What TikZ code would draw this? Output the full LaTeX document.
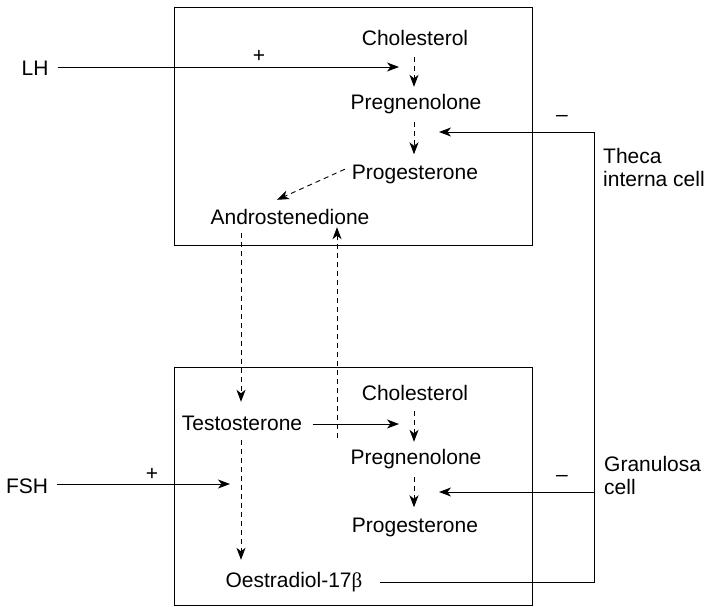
\documentclass[tikz,border=0pt]{standalone}
\usepackage{fontspec}
\setmainfont{Liberation Sans}
\newfontfamily\grkfont{Liberation Serif}
\usetikzlibrary{arrows.meta,calc}
\begin{document}
\begin{tikzpicture}[x=1pt,y=-1pt,
  lbl/.style={font=\fontsize{21}{23}\selectfont, inner sep=0pt, anchor=base, text height=15pt, text depth=4.5pt},
  sign/.style={font=\fontsize{21}{23}\selectfont, inner sep=0pt},
  cellname/.style={font=\fontsize{21}{23}\selectfont, inner sep=0pt, align=left, anchor=north west},
  cellbox/.style={draw, line width=1pt, inner sep=0pt, anchor=north west, minimum width=358pt, minimum height=238pt},
  sarr/.style={line width=0.9pt, -{Stealth[length=12pt,width=9pt,inset=3.5pt]}},
  darr/.style={sarr, dash pattern=on 5pt off 4pt}
]
\useasboundingbox (0,0) rectangle (704,606);

% cell boxes
\node[cellbox] (theca) at (174,7) {};
\node[cellbox] (gran) at (174,367) {};

% text nodes
\node[lbl] (LH)  at (35,75) {LH};
\node[lbl] (FSH) at (27,493) {FSH};
\node[lbl] (C1)  at (415,45.5) {Cholesterol};
\node[lbl] (P1)  at (416,109.5) {Pregnenolone};
\node[lbl] (Pr1) at (415,179.5) {Progesterone};
\node[lbl] (A)   at (290,224.5) {Androstenedione};
\node[lbl] (T)   at (242,430.5) {Testosterone};
\node[lbl] (C2)  at (415,400.5) {Cholesterol};
\node[lbl] (P2)  at (416,464.5) {Pregnenolone};
\node[lbl] (Pr2) at (415,532.5) {Progesterone};
\node[lbl] (O)   at (294,587.5) {Oestradiol-17{\grkfont β}};

\node[cellname] (thecalbl) at (603,148) {Theca\\interna cell};
\node[cellname] (granlbl) at (604,456) {Granulosa\\cell};

\node[sign] (plus1) at (259,56) {+};
\node[sign] (plus2) at (152,474) {+};
\node[sign] (minus1) at (562,118) {–};
\node[sign] (minus2) at (562,478) {–};

% free-end coordinates
\coordinate (lhtip) at (399,67);
\coordinate (fshtip) at (230,484);
\coordinate (ttip) at (399,424);
\coordinate (upstart) at (337,438);
\coordinate (fb) at (594,132);
\coordinate (tip1) at (439,132);
\coordinate (tip2) at (439,492);

% hormone inputs
\draw[sarr, shorten <=9pt] (LH.east |- lhtip) -- (lhtip);
\draw[sarr, shorten <=9pt] (FSH.east |- fshtip) -- (fshtip);

% theca pathway
\draw[darr, shorten <=7pt, shorten >=7.5pt] ([xshift=-1pt]C1.south) -- ([xshift=-1pt]C1.south |- P1.north);
\draw[darr, shorten <=8pt, shorten >=10pt] ([xshift=-2pt]P1.south) -- ([xshift=-2pt]P1.south |- Pr1.north);
\draw[darr] ($(Pr1.west)+(-7,-5)$) -- ($(A.north)+(-13,-9.5)$);

% between cells
\draw[darr, shorten <=4pt, shorten >=13.5pt] ([xshift=-1pt]A.south -| T.north) -- ([xshift=-1pt]T.north);
\draw[darr, shorten >=-2pt] (upstart) -- (upstart |- A.south);

% granulosa pathway
\draw[sarr, shorten <=11pt] (T.east |- ttip) -- (ttip);
\draw[darr, shorten <=6pt, shorten >=7.5pt] ([xshift=-1pt]C2.south) -- ([xshift=-1pt]C2.south |- P2.north);
\draw[darr, shorten <=8pt, shorten >=10pt] ([xshift=-2pt]P2.south) -- ([xshift=-2pt]P2.south |- Pr2.north);
\draw[darr, shorten <=5pt, shorten >=12.5pt] ([xshift=-1pt]T.south) -- ([xshift=-1pt]T.south |- O.north);

% oestradiol negative feedback
\draw[sarr, shorten <=17pt] (O.east) -| (fb) -- (tip1);
\draw[sarr] (tip2 -| fb) -- (tip2);
\end{tikzpicture}
\end{document}
